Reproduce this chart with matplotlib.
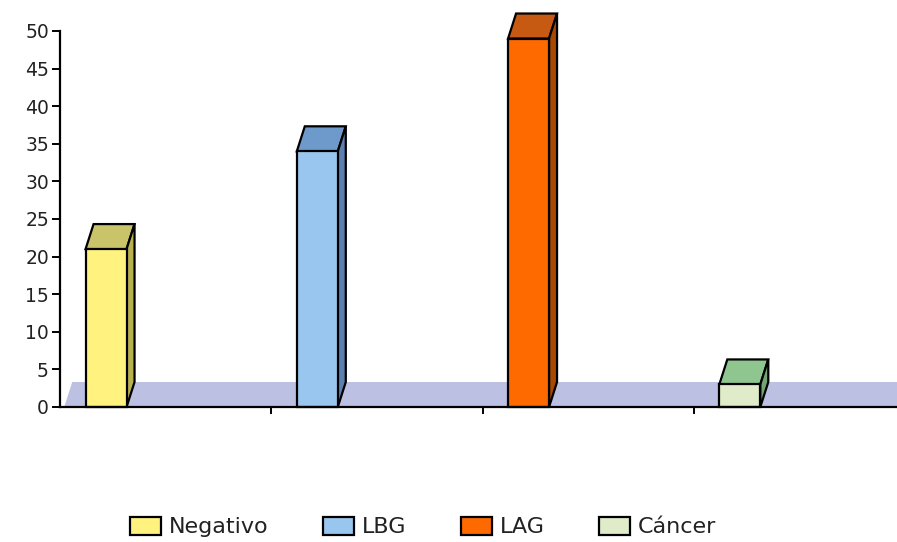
import numpy as np
import matplotlib
matplotlib.use("Agg")
import matplotlib.pyplot as plt
from matplotlib.patches import Polygon, Patch

# data
categories = ["Negativo", "LBG", "LAG", "Cáncer"]
values = [21, 34, 49, 3]
front_colors = ["#fff27f", "#99c6ee", "#ff6a00", "#dfebc9"]
top_colors = ["#c9c46a", "#6e9acb", "#c65a12", "#8fc58f"]
side_colors = ["#b8b24e", "#5b7fae", "#a94800", "#74a474"]
y_ticks = [0, 5, 10, 15, 20, 25, 30, 35, 40, 45, 50]

fig = plt.figure(figsize=(8.97, 5.42), dpi=100)
W, H = 897, 542
ax = fig.add_axes([60 / W, (H - 407) / H, (W - 60) / W, (407 - 31) / H])

x_right = (W - 60) / 211.25
ax.set_xlim(0, x_right)
ax.set_ylim(0, 50)

# 3d depth, expressed in data units
px_x = 211.25
px_y = 376 / 50
dx = 8 / px_x
dy = 25 / px_y

# floor
floor = Polygon([(0.02, 0), (x_right, 0), (x_right + dx, dy), (0.02 + dx, dy)],
                closed=True, facecolor="#bcc0e2", edgecolor="none", zorder=1)
ax.add_patch(floor)

centers = np.arange(len(categories)) + 0.218
width = 0.194
for c, v, fc, tc, sc in zip(centers, values, front_colors, top_colors, side_colors):
    x0, x1 = c - width / 2, c + width / 2
    ax.add_patch(Polygon([(x0, v), (x1, v), (x1 + dx, v + dy), (x0 + dx, v + dy)],
                         closed=True, facecolor=tc, edgecolor="black", lw=1.6,
                         zorder=3, clip_on=False))
    ax.add_patch(Polygon([(x1, 0), (x1 + dx, dy), (x1 + dx, v + dy), (x1, v)],
                         closed=True, facecolor=sc, edgecolor="black", lw=1.6,
                         zorder=3, clip_on=False))
    ax.bar(c, v, width=width, color=fc, edgecolor="black", linewidth=1.6, zorder=4,
           clip_on=False)

for s in ["top", "right"]:
    ax.spines[s].set_visible(False)
for s in ["left", "bottom"]:
    ax.spines[s].set_linewidth(1.6)
    ax.spines[s].set_zorder(5)

ax.set_yticks(y_ticks)
ax.tick_params(axis="y", direction="out", length=6, width=1.4, labelsize=13.5, pad=2,
               labelcolor="#222222")
ax.set_xticks([1, 2, 3])
ax.set_xticklabels([])
ax.tick_params(axis="x", direction="out", length=5, width=1.4)

handles = [Patch(facecolor=fc, edgecolor="black", linewidth=1.6) for fc in front_colors]
fig.legend(handles, categories, loc="center", bbox_to_anchor=(423 / W, 1 - 527 / H),
           ncol=4, frameon=False, fontsize=16, handlelength=1.4, handleheight=0.86,
           handletextpad=0.35, columnspacing=2.45, labelcolor="#222222")

fig.savefig("out.png", dpi=100)
